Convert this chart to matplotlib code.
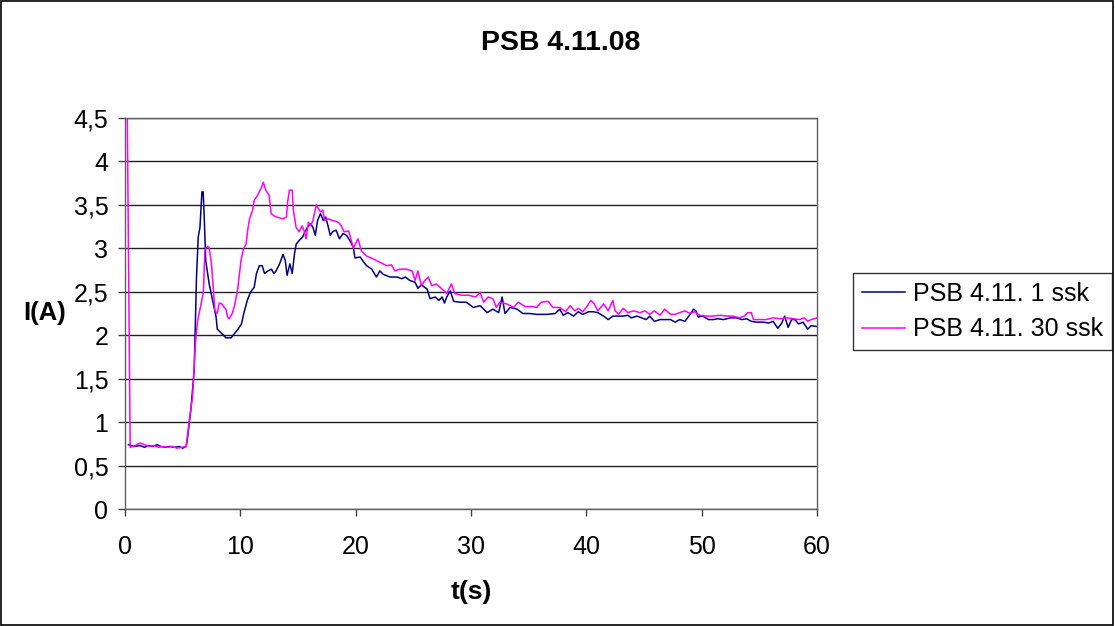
#!/usr/bin/env python3

import matplotlib
matplotlib.use("Agg")
import matplotlib.pyplot as plt
from matplotlib.patches import Rectangle

plt.rcParams['font.family'] = ['Liberation Sans', 'DejaVu Sans']

title = "PSB 4.11.08"
series_labels = ["PSB 4.11. 1 ssk", "PSB 4.11. 30 ssk"]

x_ticks = [0, 10, 20, 30, 40, 50, 60]
y_ticks = [0, 0.5, 1, 1.5, 2, 2.5, 3, 3.5, 4, 4.5]
y_tick_labels = ["0", "0,5", "1", "1,5", "2", "2,5", "3", "3,5", "4", "4,5"]

# 1 ssk measurement: time (s) and current (A)
t_1ssk = [
    0.3, 0.8, 1.3, 1.7, 2.0, 2.4, 2.8, 3.1, 3.5, 3.9,
    4.3, 4.7, 5.0, 5.3, 5.4, 5.7, 6.0, 6.2, 6.35, 6.5,
    6.67, 6.78, 6.87, 7.0, 7.3, 7.6, 7.9, 8.0, 8.46, 8.75,
    9.2, 9.5, 9.8, 10.1, 10.3, 10.6, 10.9, 11.2, 11.4, 11.65,
    11.9, 12.1, 12.4, 12.7, 12.9, 13.1, 13.4, 13.7, 13.9, 14.05,
    14.3, 14.5, 14.7, 14.85, 15.1, 15.4, 15.6, 15.9, 16.1, 16.3,
    16.5, 16.7, 16.95, 17.2, 17.4, 17.6, 17.8, 18.0, 18.3, 18.6,
    18.9, 19.2, 19.5, 19.8, 19.94, 20.4, 20.7, 20.96, 21.4, 21.8,
    22.1, 22.4, 22.98, 23.6, 24.0, 24.3, 24.7, 25.15, 25.4, 25.7,
    26.2, 26.45, 26.9, 27.2, 27.5, 27.7, 27.9, 28.2, 28.5, 29.05,
    29.6, 30.2, 30.8, 31.4, 31.9, 32.4, 32.7, 32.95, 33.4, 34.0,
    34.5, 35.1, 35.7, 36.6, 37.3, 37.7, 38.0, 38.4, 38.9, 39.3,
    39.7, 40.2, 40.6, 41.0, 41.5, 41.9, 42.3, 42.8, 43.2, 43.6,
    43.9, 44.4, 44.8, 45.2, 45.5, 45.9, 46.4, 46.8, 47.3, 47.7,
    48.1, 48.55, 49.0, 49.3, 49.5, 49.7, 50.1, 50.6, 51.0, 51.4,
    51.9, 52.5, 53.0, 53.5, 53.9, 54.3, 54.8, 55.4, 55.8, 56.2,
    56.6, 56.95, 57.2, 57.5, 57.8, 58.1, 58.4, 58.8, 59.2, 59.5,
    60.0,
]
i_1ssk = [
    0.74, 0.72, 0.73, 0.71, 0.73, 0.72, 0.74, 0.72, 0.71, 0.72,
    0.71, 0.72, 0.70, 0.72, 0.79, 1.13, 1.59, 2.67, 3.13, 3.24,
    3.65, 3.65, 3.36, 2.86, 2.59, 2.40, 2.21, 2.07, 2.01, 1.97,
    1.97, 2.02, 2.07, 2.13, 2.25, 2.40, 2.50, 2.55, 2.71, 2.80,
    2.80, 2.71, 2.74, 2.76, 2.71, 2.74, 2.82, 2.93, 2.86, 2.69,
    2.82, 2.71, 2.94, 3.05, 3.09, 3.13, 3.19, 3.26, 3.28, 3.24,
    3.15, 3.32, 3.40, 3.32, 3.36, 3.26, 3.15, 3.19, 3.21, 3.11,
    3.17, 3.15, 3.09, 3.01, 2.89, 2.90, 2.84, 2.80, 2.76, 2.67,
    2.74, 2.70, 2.67, 2.67, 2.65, 2.67, 2.63, 2.61, 2.54, 2.58,
    2.53, 2.42, 2.44, 2.40, 2.44, 2.37, 2.44, 2.51, 2.39, 2.38,
    2.38, 2.32, 2.34, 2.26, 2.30, 2.26, 2.44, 2.25, 2.32, 2.30,
    2.25, 2.25, 2.24, 2.24, 2.25, 2.30, 2.23, 2.26, 2.22, 2.27,
    2.24, 2.27, 2.27, 2.26, 2.22, 2.18, 2.22, 2.22, 2.22, 2.23,
    2.20, 2.22, 2.20, 2.18, 2.22, 2.16, 2.18, 2.18, 2.18, 2.15,
    2.18, 2.16, 2.24, 2.30, 2.28, 2.21, 2.22, 2.18, 2.18, 2.19,
    2.18, 2.20, 2.20, 2.18, 2.19, 2.16, 2.15, 2.15, 2.14, 2.16,
    2.08, 2.14, 2.22, 2.09, 2.18, 2.18, 2.13, 2.15, 2.07, 2.11,
    2.10,
]

# 30 ssk measurement
t_30ssk = [
    0.2, 0.45, 0.9, 1.3, 1.7, 2.1, 2.5, 2.9, 3.3, 3.7,
    4.1, 4.5, 4.9, 5.3, 5.57, 5.86, 6.1, 6.3, 6.6, 6.8,
    6.93, 7.16, 7.3, 7.5, 7.65, 7.8, 8.0, 8.17, 8.4, 8.6,
    8.75, 8.9, 9.04, 9.3, 9.5, 9.77, 10.06, 10.26, 10.5, 10.64,
    10.8, 11.07, 11.2, 11.5, 11.8, 12.0, 12.2, 12.5, 12.67, 12.96,
    13.4, 13.7, 14.0, 14.1, 14.26, 14.5, 14.6, 14.84, 15.1, 15.36,
    15.56, 15.7, 15.9, 16.1, 16.3, 16.58, 16.8, 16.95, 17.16, 17.3,
    17.6, 18.0, 18.5, 18.75, 19.0, 19.4, 19.8, 20.2, 20.5, 20.96,
    21.5, 22.1, 22.7, 23.1, 23.4, 23.8, 24.4, 24.9, 25.15, 25.4,
    25.7, 26.0, 26.3, 26.6, 27.0, 27.5, 27.9, 28.3, 28.6, 29.2,
    29.8, 30.4, 30.8, 31.1, 31.5, 31.9, 32.2, 32.5, 33.1, 33.7,
    34.1, 34.7, 35.3, 35.7, 36.1, 36.7, 37.1, 37.7, 38.2, 38.6,
    39.0, 39.3, 39.7, 40.0, 40.4, 40.7, 41.0, 41.5, 41.9, 42.3,
    42.5, 42.8, 43.2, 43.6, 44.1, 44.65, 45.1, 45.5, 45.9, 46.4,
    46.8, 47.3, 47.7, 48.1, 48.55, 49.0, 49.4, 49.8, 50.4, 51.0,
    51.6, 52.2, 52.7, 53.3, 53.7, 54.0, 54.3, 54.5, 55.05, 55.6,
    56.2, 56.8, 57.4, 57.95, 58.5, 58.9, 59.2, 59.5, 60.0,
]
i_30ssk = [
    4.5, 0.71, 0.73, 0.76, 0.74, 0.72, 0.73, 0.71, 0.72, 0.71,
    0.72, 0.70, 0.71, 0.72, 1.02, 1.29, 1.90, 2.17, 2.36, 2.50,
    2.98, 3.02, 3.01, 2.82, 2.55, 2.28, 2.25, 2.37, 2.36, 2.32,
    2.30, 2.21, 2.19, 2.25, 2.34, 2.53, 2.86, 2.99, 3.05, 3.21,
    3.34, 3.44, 3.55, 3.61, 3.69, 3.76, 3.67, 3.61, 3.40, 3.37,
    3.35, 3.34, 3.36, 3.53, 3.67, 3.67, 3.44, 3.24, 3.19, 3.26,
    3.19, 3.11, 3.30, 3.26, 3.32, 3.50, 3.45, 3.42, 3.44, 3.32,
    3.34, 3.32, 3.30, 3.26, 3.19, 3.20, 3.00, 3.11, 2.97, 2.91,
    2.88, 2.84, 2.80, 2.81, 2.74, 2.76, 2.76, 2.74, 2.63, 2.74,
    2.57, 2.63, 2.67, 2.57, 2.59, 2.53, 2.48, 2.59, 2.48, 2.46,
    2.46, 2.44, 2.49, 2.38, 2.44, 2.42, 2.32, 2.38, 2.36, 2.32,
    2.38, 2.33, 2.33, 2.32, 2.38, 2.39, 2.32, 2.32, 2.27, 2.34,
    2.28, 2.31, 2.27, 2.32, 2.40, 2.36, 2.28, 2.36, 2.28, 2.40,
    2.28, 2.24, 2.31, 2.26, 2.28, 2.26, 2.28, 2.24, 2.28, 2.23,
    2.30, 2.24, 2.24, 2.26, 2.28, 2.25, 2.27, 2.23, 2.22, 2.22,
    2.23, 2.22, 2.22, 2.20, 2.22, 2.26, 2.26, 2.18, 2.18, 2.18,
    2.20, 2.19, 2.20, 2.19, 2.18, 2.20, 2.16, 2.18, 2.20,
]


def main():
    fig = plt.figure(figsize=(11.15, 6.26), dpi=100)
    ax = fig.add_axes([0.1121, 0.1869, 0.6206, 0.6246])

    ax.plot(t_1ssk, i_1ssk, color='#000080', lw=1.1, label=series_labels[0])
    ax.plot(t_30ssk, i_30ssk, color='#FF00FF', lw=1.1, label=series_labels[1])

    ax.set_xlim(0, 60)
    ax.set_ylim(0, 4.5)
    ax.set_xticks(x_ticks)
    ax.set_yticks(y_ticks)
    ax.set_yticklabels(y_tick_labels)
    ax.tick_params(axis='both', labelsize=18, direction='out', length=5,
                   width=1, color='#404040')
    ax.tick_params(axis='x', pad=13.5)
    ax.tick_params(axis='y', pad=7)
    ax.yaxis.grid(True, color='#202020', lw=1)
    ax.set_axisbelow(True)
    for side in ['left', 'bottom', 'right', 'top']:
        ax.spines[side].set_color('#606060')
        ax.spines[side].set_linewidth(1)

    ax.set_xlabel("t(s)", fontsize=19, fontweight='bold', labelpad=15)
    fig.text(0.04, 0.50, "I(A)", fontsize=18.5, fontweight='bold',
             ha='center', va='center')
    fig.text(0.503, 0.931, title, fontsize=20.5, fontweight='bold',
             ha='center', va='center')

    leg = fig.legend(loc='center left', bbox_to_anchor=(0.765, 0.502),
                     fontsize=18, frameon=True, fancybox=False,
                     handlelength=1.75, handletextpad=0.3, labelspacing=0.45,
                     borderpad=0.35, borderaxespad=0)
    leg.get_frame().set_edgecolor('black')
    leg.get_frame().set_linewidth(1)

    fig.add_artist(Rectangle((0.0005, 0.001), 0.998, 0.997,
                             transform=fig.transFigure, fill=False,
                             ec='black', lw=1.2))

    fig.savefig("out.png", dpi=100)


if __name__ == '__main__':
    main()
